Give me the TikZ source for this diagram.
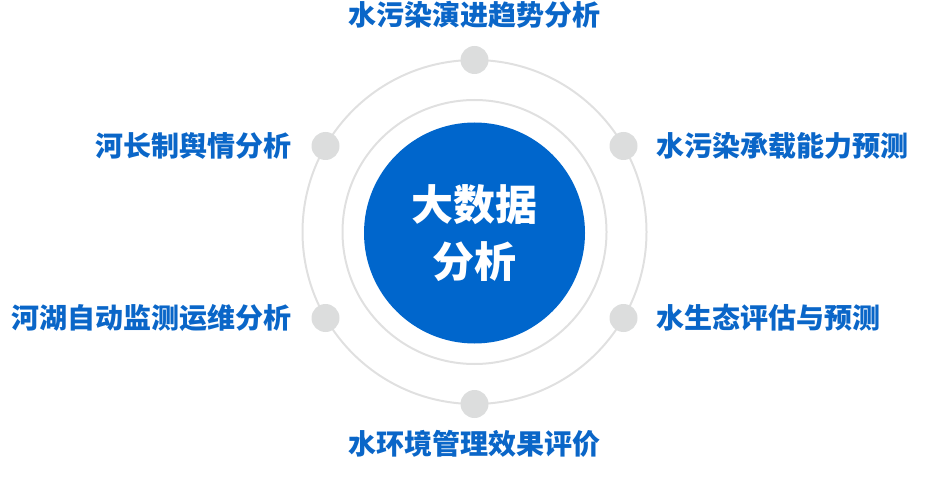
\documentclass[tikz,border=0pt]{standalone}
\usepackage{fontspec}
\setmainfont{Noto Sans CJK SC}
\definecolor{mainblue}{HTML}{0066CC}
\definecolor{txtblue}{HTML}{0A66C8}
\definecolor{ringgray}{HTML}{E0E0E0}
\definecolor{dotgray}{HTML}{DCDDDD}
\begin{document}
\begin{tikzpicture}[x=1pt,y=-1pt,
  ring/.style={draw=ringgray,line width=2pt},
  dotnode/.style={circle,fill=dotgray,minimum size=28pt,inner sep=0pt},
  lbl/.style={text=txtblue,font=\fontsize{28}{32}\selectfont\bfseries,inner sep=0pt},
  hub/.style={circle,fill=mainblue,minimum size=221pt,inner sep=0pt,text=white,align=center,font=\fontsize{42}{59}\selectfont\bfseries}]
\useasboundingbox (0,0) rectangle (925,494);
\draw[ring] (474.5,232) circle[radius=172];
\draw[ring] (474.5,232) circle[radius=132];
\node[hub] (hub) at (474.5,233) {大数据\\[-2pt]分析};
\node[dotnode] (dT) at (474.5,60) {};
\node[dotnode] (dB) at (474.5,404) {};
\node[dotnode] (dTR) at (623.5,146) {};
\node[dotnode] (dBR) at (623.5,318) {};
\node[dotnode] (dTL) at (325.5,146) {};
\node[dotnode] (dBL) at (325.5,318) {};
\node[lbl,anchor=center] (lT) at (474.5,15) {水污染演进趋势分析};
\node[lbl,anchor=center] (lB) at (474.5,444) {水环境管理效果评价};
\node[lbl,anchor=west] (lTR) at (656,146) {水污染承载能力预测};
\node[lbl,anchor=west] (lBR) at (656,318) {水生态评估与预测};
\node[lbl,anchor=east] (lTL) at (292,146) {河长制舆情分析};
\node[lbl,anchor=east] (lBL) at (292,318) {河湖自动监测运维分析};
\end{tikzpicture}
\end{document}
